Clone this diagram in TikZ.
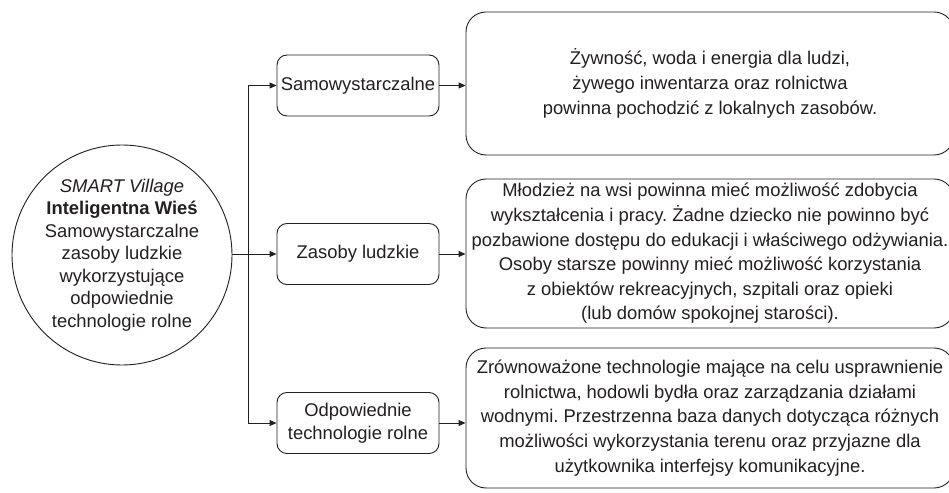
\documentclass[tikz,border=0pt]{standalone}
\usepackage{fontspec}
\setmainfont{Liberation Sans}
\usetikzlibrary{arrows.meta}
\definecolor{ink}{HTML}{231F20}
\frenchspacing
\tikzset{
  line/.style={draw=ink, line width=0.9bp},
  arr/.style={line, -{Triangle[length=7bp,width=6bp]}},
  smallbox/.style={line, rounded corners=10bp, minimum width=162bp, minimum height=61bp, inner sep=2bp, align=center, text=ink, font=\frenchspacing\fontsize{18.4bp}{23bp}\selectfont},
  bigbox/.style={line, rounded corners=20bp, minimum width=488bp, inner sep=0bp, align=center, text=ink, font=\frenchspacing\fontsize{18.4bp}{24.6bp}\selectfont},
  hub/.style={line, circle, minimum size=220bp, inner sep=0bp, align=center, text=ink, font=\frenchspacing\fontsize{18.4bp}{22.5bp}\selectfont}
}
\begin{document}
\begin{tikzpicture}[x=1bp,y=-1bp]
\clip (0,0) rectangle (949,493);
\fill[white] (0,0) rectangle (949,493);

\node[hub] (c) at (122,255) {\textit{SMART Village}\\\textbf{Inteligentna Wieś}\\Samowystarczalne\\zasoby ludzkie\\wykorzystujące\\odpowiednie\\technologie rolne};

\node[smallbox] (s) at (358,85.5) {Samowystarczalne};
\node[smallbox] (z) at (358,254) {Zasoby ludzkie};
\node[smallbox] (o) at (358,423) {Odpowiednie\\technologie rolne};

\node[bigbox, minimum height=143bp] (b1) at (710,83.5) {Żywność, woda i energia dla ludzi,\\żywego inwentarza oraz rolnictwa\\powinna pochodzić z lokalnych zasobów.};
\node[bigbox, minimum height=149bp] (b2) at (710,253.5) {Młodzież na wsi powinna mieć możliwość zdobycia\\wykształcenia i pracy. Żadne dziecko nie powinno być\\pozbawione dostępu do edukacji i właściwego odżywiania.\\Osoby starsze powinny mieć możliwość korzystania\\z obiektów rekreacyjnych, szpitali oraz opieki\\(lub domów spokojnej starości).};
\node[bigbox, minimum height=140bp] (b3) at (710,418) {Zrównoważone technologie mające na celu usprawnienie\\rolnictwa, hodowli bydła oraz zarządzania działami\\wodnymi. Przestrzenna baza danych dotycząca różnych\\możliwości wykorzystania terenu oraz przyjazne dla\\użytkownika interfejsy komunikacyjne.};

\coordinate (j) at (248,254);
\draw[arr] (c.east |- z.west) -- (z.west);
\draw[arr] (j) |- (s.west);
\draw[arr] (j) |- (o.west);
\draw[arr] (s.east) -- (s.east -| b1.west);
\draw[arr] (z.east) -- (z.east -| b2.west);
\draw[arr] (o.east) -- (o.east -| b3.west);
\end{tikzpicture}
\end{document}
